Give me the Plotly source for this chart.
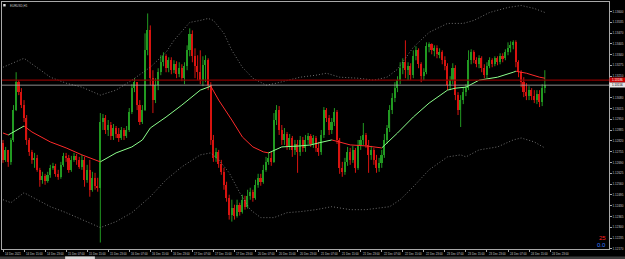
import plotly.graph_objects as go

# ---------------- data (EURUSD H1, prices) ----------------
OPEN0 = 1.12808
close = [
1.12706,1.12766,1.12694,1.12826,1.13006,1.13174,1.13114,1.13036,1.12958,1.12826,
1.12754,1.12706,1.12718,1.12646,1.12586,1.12610,1.12580,1.12616,1.12658,1.12670,
1.12622,1.12604,1.12676,1.12730,1.12718,1.12646,1.12706,1.12730,1.12706,1.12664,
1.12706,1.12586,1.12646,1.12526,1.12598,1.12550,1.12538,1.12934,1.12958,1.12886,
1.12916,1.12850,1.12898,1.12862,1.12838,1.12886,1.12850,1.12886,1.12994,1.13138,
1.13174,1.13036,1.12934,1.13006,1.13366,1.13486,1.13198,1.13066,1.13156,1.13234,
1.13294,1.13330,1.13258,1.13306,1.13246,1.13282,1.13222,1.13258,1.13198,1.13270,
1.13366,1.13462,1.13330,1.13270,1.13234,1.13186,1.13276,1.13306,1.13156,1.12826,
1.12718,1.12754,1.12682,1.12634,1.12556,1.12478,1.12376,1.12418,1.12370,1.12436,
1.12394,1.12466,1.12424,1.12490,1.12514,1.12478,1.12556,1.12598,1.12574,1.12646,
1.12694,1.12718,1.12694,1.12946,1.13006,1.12886,1.12826,1.12862,1.12790,1.12838,
1.12766,1.12802,1.12754,1.12826,1.12778,1.12826,1.12850,1.12802,1.12838,1.12778,
1.12754,1.12856,1.13006,1.12958,1.12886,1.12934,1.12994,1.12826,1.12658,1.12634,
1.12694,1.12754,1.12706,1.12766,1.12658,1.12796,1.12826,1.12856,1.12796,1.12736,
1.12766,1.12706,1.12658,1.12688,1.12736,1.12826,1.12898,1.13006,1.13078,1.13138,
1.13186,1.13258,1.13294,1.13246,1.13270,1.13216,1.13330,1.13366,1.13282,1.13210,
1.13234,1.13390,1.13402,1.13366,1.13378,1.13342,1.13354,1.13306,1.13270,1.13156,
1.13186,1.13258,1.13096,1.13006,1.13066,1.13114,1.13138,1.13306,1.13354,1.13306,
1.13282,1.13318,1.13258,1.13216,1.13270,1.13306,1.13282,1.13318,1.13294,1.13330,
1.13318,1.13354,1.13378,1.13396,1.13414,1.13294,1.13234,1.13174,1.13114,1.13090,
1.13126,1.13090,1.13066,1.13102,1.13054,1.13138,1.13156]
high = [
1.12826,1.12784,1.12766,1.12838,1.13036,1.13234,1.13186,1.13138,1.13066,1.12976,
1.12838,1.12766,1.12748,1.12736,1.12658,1.12634,1.12622,1.12634,1.12676,1.12688,
1.12682,1.12646,1.12694,1.12748,1.12748,1.12736,1.12730,1.12748,1.12742,1.12724,
1.12736,1.12724,1.12676,1.12706,1.12634,1.12628,1.12598,1.12988,1.12982,1.12976,
1.12946,1.12934,1.12922,1.12910,1.12898,1.12904,1.12898,1.12910,1.13018,1.13162,
1.13198,1.13174,1.13066,1.13036,1.13468,1.13588,1.13516,1.13246,1.13198,1.13258,
1.13336,1.13354,1.13342,1.13324,1.13324,1.13306,1.13300,1.13294,1.13282,1.13294,
1.13396,1.13498,1.13486,1.13378,1.13336,1.13366,1.13330,1.13336,1.13318,1.13174,
1.12856,1.12778,1.12766,1.12706,1.12658,1.12574,1.12496,1.12466,1.12436,1.12466,
1.12448,1.12496,1.12490,1.12526,1.12538,1.12526,1.12586,1.12622,1.12622,1.12676,
1.12724,1.12754,1.12754,1.12988,1.13036,1.13030,1.12916,1.12898,1.12874,1.12862,
1.12850,1.12826,1.12826,1.12850,1.12844,1.12856,1.12868,1.12862,1.12856,1.12850,
1.12814,1.12886,1.13024,1.13018,1.12976,1.12958,1.13018,1.13006,1.12838,1.12694,
1.12718,1.12784,1.12778,1.12790,1.12778,1.12826,1.12850,1.12928,1.12868,1.12826,
1.12790,1.12778,1.12736,1.12718,1.12766,1.12862,1.12916,1.13036,1.13108,1.13174,
1.13210,1.13294,1.13318,1.13426,1.13294,1.13288,1.13366,1.13390,1.13378,1.13294,
1.13258,1.13414,1.13414,1.13408,1.13396,1.13396,1.13378,1.13366,1.13330,1.13288,
1.13210,1.13288,1.13276,1.13114,1.13096,1.13144,1.13162,1.13366,1.13372,1.13366,
1.13324,1.13336,1.13330,1.13282,1.13294,1.13324,1.13318,1.13330,1.13330,1.13348,
1.13348,1.13372,1.13414,1.13420,1.13426,1.13426,1.13306,1.13246,1.13204,1.13168,
1.13150,1.13138,1.13126,1.13126,1.13126,1.13162,1.13246]
low = [
1.12688,1.12694,1.12664,1.12676,1.12814,1.13000,1.13096,1.13018,1.12934,1.12796,
1.12730,1.12682,1.12658,1.12634,1.12544,1.12562,1.12556,1.12568,1.12598,1.12646,
1.12604,1.12586,1.12592,1.12664,1.12694,1.12628,1.12634,1.12694,1.12676,1.12652,
1.12646,1.12544,1.12568,1.12484,1.12514,1.12526,1.12514,1.12208,1.12886,1.12862,
1.12850,1.12826,1.12826,1.12838,1.12814,1.12826,1.12826,1.12838,1.12874,1.12982,
1.13114,1.13006,1.12916,1.12922,1.13000,1.13336,1.13156,1.12988,1.13048,1.13126,
1.13216,1.13270,1.13234,1.13234,1.13222,1.13228,1.13198,1.13204,1.13180,1.13162,
1.13246,1.13330,1.13294,1.13198,1.13186,1.13162,1.13150,1.13174,1.13126,1.12796,
1.12694,1.12694,1.12658,1.12616,1.12526,1.12454,1.12346,1.12334,1.12346,1.12358,
1.12370,1.12382,1.12406,1.12412,1.12466,1.12454,1.12466,1.12538,1.12550,1.12562,
1.12634,1.12676,1.12670,1.12688,1.12916,1.12856,1.12796,1.12796,1.12766,1.12766,
1.12724,1.12736,1.12628,1.12730,1.12754,1.12754,1.12802,1.12784,1.12778,1.12754,
1.12730,1.12736,1.12838,1.12934,1.12856,1.12862,1.12910,1.12802,1.12622,1.12604,
1.12616,1.12670,1.12676,1.12688,1.12628,1.12646,1.12766,1.12796,1.12778,1.12628,
1.12706,1.12676,1.12628,1.12634,1.12658,1.12718,1.12802,1.12874,1.12982,1.13054,
1.13114,1.13162,1.13222,1.13198,1.13186,1.13186,1.13198,1.13306,1.13258,1.13174,
1.13186,1.13222,1.13354,1.13342,1.13330,1.13318,1.13318,1.13282,1.13246,1.13126,
1.13126,1.13162,1.13066,1.12976,1.12904,1.13042,1.13090,1.13126,1.13282,1.13288,
1.13264,1.13258,1.13234,1.13198,1.13198,1.13258,1.13264,1.13270,1.13276,1.13282,
1.13294,1.13306,1.13336,1.13354,1.13372,1.13264,1.13204,1.13144,1.13084,1.13066,
1.13066,1.13066,1.13048,1.13042,1.13024,1.13030,1.13108]

# coloured moving average (bar index, value)
ma_bar = [0,2,8,11,18,24,30,37,43,49,53,56,62,68,75,79,82,87,91,95,99,101,106,113,117,120,
          125,132,138,144,150,156,162,169,172,176,181,188,194,195,199,204,206]
ma_val = [1.12868,1.12856,1.12910,1.12874,1.12814,1.12778,1.12736,1.12694,1.12748,1.12784,
          1.12826,1.12898,1.12964,1.13036,1.13126,1.13150,1.13066,1.12946,1.12844,1.12784,
          1.12754,1.12748,1.12784,1.12790,1.12796,1.12808,1.12826,1.12796,1.12790,1.12778,
          1.12868,1.12964,1.13048,1.13126,1.13138,1.13144,1.13186,1.13204,1.13234,1.13240,
          1.13228,1.13204,1.13198]
# envelope bands
ub_bar = [0,8,18,24,30,37,43,49,56,62,65,71,75,78,80,84,87,91,95,100,104,108,113,119,123,128,
          135,141,146,150,156,162,169,175,179,185,192,197,202,206]
ub_val = [1.13264,1.13318,1.13204,1.13168,1.13144,1.13096,1.13126,1.13186,1.13264,1.13354,
          1.13426,1.13534,1.13546,1.13558,1.13546,1.13468,1.13366,1.13264,1.13198,1.13156,
          1.13168,1.13186,1.13204,1.13216,1.13228,1.13204,1.13198,1.13186,1.13204,1.13252,
          1.13384,1.13474,1.13528,1.13528,1.13546,1.13594,1.13624,1.13636,1.13618,1.13594]
lb_bar = [0,3,8,11,18,24,30,37,43,49,56,62,68,75,79,82,86,90,94,98,103,108,113,119,125,132,
          138,144,147,151,156,162,169,174,176,181,188,194,197,202,206]
lb_val = [1.12466,1.12448,1.12508,1.12484,1.12424,1.12388,1.12346,1.12298,1.12334,1.12388,
          1.12484,1.12586,1.12664,1.12736,1.12748,1.12706,1.12628,1.12508,1.12406,1.12358,
          1.12358,1.12388,1.12394,1.12406,1.12424,1.12406,1.12406,1.12418,1.12424,1.12466,
          1.12544,1.12646,1.12724,1.12736,1.12724,1.12766,1.12784,1.12826,1.12838,1.12814,
          1.12778]

ASK = 1.13186
BID = 1.13156

y_ticks = [1.13600,1.13535,1.13470,1.13405,1.13340,1.13275,1.13210,1.13145,1.13080,1.13015,
           1.12950,1.12885,1.12820,1.12755,1.12690,1.12625,1.12560,1.12495,1.12430,1.12365,
           1.12300,1.12235,1.12170]
x_labels = ["14 Dec 2021","14 Dec 15:00","14 Dec 23:00","15 Dec 07:00","15 Dec 15:00",
            "15 Dec 23:00","16 Dec 07:00","16 Dec 15:00","16 Dec 23:00","17 Dec 07:00",
            "17 Dec 15:00","17 Dec 23:00","20 Dec 07:00","20 Dec 15:00","20 Dec 23:00",
            "21 Dec 07:00","21 Dec 15:00","21 Dec 23:00","22 Dec 07:00","22 Dec 15:00",
            "22 Dec 23:00","23 Dec 07:00","23 Dec 15:00","23 Dec 23:00","24 Dec 07:00",
            "24 Dec 15:00","24 Dec 23:00"]
BARS_PER_LABEL = 8

# ---------------- styles ----------------
BULL = "#229a22"
BEAR = "#d81410"
MA_UP = "#8cff8c"
MA_DN = "#ff2a2a"
BAND = "#8a8a8a"
AXIS = "#a8a8a8"
TXT = "#c8c8c8"
FONT = "Liberation Sans"

n = min(len(close), len(high), len(low))
opens = [OPEN0] + close[:n - 1]

ux, ub, uh, dx, db, dh = [], [], [], [], [], []
uwx, uwy, dwx, dwy = [], [], [], []
for i in range(n):
    o, c = opens[i], close[i]
    h = max(high[i], o, c)
    l = min(low[i], o, c)
    base = min(o, c)
    size = max(abs(c - o), 0.00004)
    if c >= o:
        ux.append(i); ub.append(base); uh.append(size)
        uwx += [i, i, None]; uwy += [l, h, None]
    else:
        dx.append(i); db.append(base); dh.append(size)
        dwx += [i, i, None]; dwy += [l, h, None]

fig = go.Figure()
fig.add_trace(go.Scatter(x=uwx, y=uwy, mode="lines", line=dict(color=BULL, width=1), hoverinfo="skip"))
fig.add_trace(go.Scatter(x=dwx, y=dwy, mode="lines", line=dict(color=BEAR, width=1), hoverinfo="skip"))
fig.add_trace(go.Bar(x=ux, y=uh, base=ub, width=0.6, marker=dict(color=BULL, line=dict(width=0))))
fig.add_trace(go.Bar(x=dx, y=dh, base=db, width=0.6, marker=dict(color=BEAR, line=dict(width=0))))

# bands
fig.add_trace(go.Scatter(x=ub_bar, y=ub_val, mode="lines", line=dict(color=BAND, width=0.8, dash="1px,2px")))
fig.add_trace(go.Scatter(x=lb_bar, y=lb_val, mode="lines", line=dict(color=BAND, width=0.8, dash="1px,2px")))

# coloured MA
gx, gy, rx, ry = [], [], [], []
for k in range(len(ma_bar) - 1):
    seg_x = [ma_bar[k], ma_bar[k + 1], None]
    seg_y = [ma_val[k], ma_val[k + 1], None]
    if ma_val[k + 1] >= ma_val[k]:
        gx += seg_x; gy += seg_y
    else:
        rx += seg_x; ry += seg_y
fig.add_trace(go.Scatter(x=gx, y=gy, mode="lines", line=dict(color=MA_UP, width=1)))
fig.add_trace(go.Scatter(x=rx, y=ry, mode="lines", line=dict(color=MA_DN, width=1)))

# ask / bid lines
fig.add_hline(y=ASK, line=dict(color="#8a0000", width=1.3))
fig.add_hline(y=BID, line=dict(color="#b0b0b0", width=0.8))

label_pos = [BARS_PER_LABEL * k for k in range(len(x_labels))]
ann = []
for p, t in zip(label_pos, x_labels):
    ann.append(dict(x=p, xref="x", y=0, yref="paper", yanchor="top", xanchor="left",
                    yshift=-1, text=t, showarrow=False, font=dict(size=2.8, color=TXT, family=FONT)))
# price tags (cover the axis labels beneath them, as in the terminal)
ann.append(dict(x=1, xref="paper", y=ASK, yref="y", xanchor="left", yanchor="middle",
                text=f"{ASK:.5f}", showarrow=False, bgcolor="#c80000", borderpad=0,
                width=15, height=4, font=dict(size=3, color="#ffffff", family=FONT)))
ann.append(dict(x=1, xref="paper", y=BID, yref="y", xanchor="left", yanchor="middle",
                text=f"{BID:.5f}", showarrow=False, bgcolor="#e6e6e6", borderpad=0,
                width=15, height=4, font=dict(size=3, color="#000000", family=FONT)))
# title & indicator values
ann.append(dict(x=0, xref="paper", y=1, yref="paper", xanchor="left", yanchor="top",
                xshift=6, yshift=0, text="EURUSD,H1", showarrow=False,
                font=dict(size=3, color=TXT, family=FONT)))
ann.append(dict(x=1, xref="paper", y=0.043, yref="paper", xanchor="right", yanchor="middle",
                xshift=-1, text="25", showarrow=False, font=dict(size=6, color="#ff2020", family=FONT)))
ann.append(dict(x=1, xref="paper", y=0.016, yref="paper", xanchor="right", yanchor="middle",
                xshift=-1, text="0.0", showarrow=False, font=dict(size=6, color="#3a7aff", family=FONT)))

shapes = [
    dict(type="rect", xref="paper", yref="paper", x0=0.002, x1=0.006, y0=0.982, y1=0.992,
         fillcolor="#e0e0e0", line=dict(width=0)),
    dict(type="rect", xref="paper", yref="paper", x0=-0.01, x1=1.04, y0=-0.045, y1=-0.03,
         fillcolor="#3c3c3c", line=dict(width=0), layer="above"),
    dict(type="rect", xref="paper", yref="paper", x0=0.104, x1=0.153, y0=-0.045, y1=-0.03,
         fillcolor="#d8d8d8", line=dict(width=0), layer="above"),
]

# tick texts hidden beneath the price tags are left blank
tick_text = ["" if min(abs(v - ASK), abs(v - BID)) < 0.00015 else f"{v:.5f}" for v in y_ticks]

fig.update_layout(
    template="none",
    width=625, height=259,
    margin=dict(l=2, r=16, t=2, b=10),
    paper_bgcolor="#000000", plot_bgcolor="#000000",
    showlegend=False, barmode="overlay", bargap=0,
    annotations=ann, shapes=fig.layout.shapes + tuple(shapes),
    font=dict(family=FONT, color=TXT, size=3),
    xaxis=dict(range=[-0.38, 230.4], showgrid=False, zeroline=False, showline=True, mirror=True,
               linecolor=AXIS, linewidth=1, tickvals=label_pos, ticks="outside", ticklen=2,
               tickcolor=AXIS, showticklabels=False, automargin=False, fixedrange=True),
    yaxis=dict(range=[1.12169, 1.13657], side="right", showgrid=False, zeroline=False,
               showline=True, mirror=True, linecolor=AXIS, linewidth=1,
               tickvals=y_ticks, ticktext=tick_text,
               ticks="outside", ticklen=2, tickcolor=AXIS,
               tickfont=dict(size=3, color=TXT, family=FONT), automargin=False, fixedrange=True),
)

fig.write_html("out.html")
